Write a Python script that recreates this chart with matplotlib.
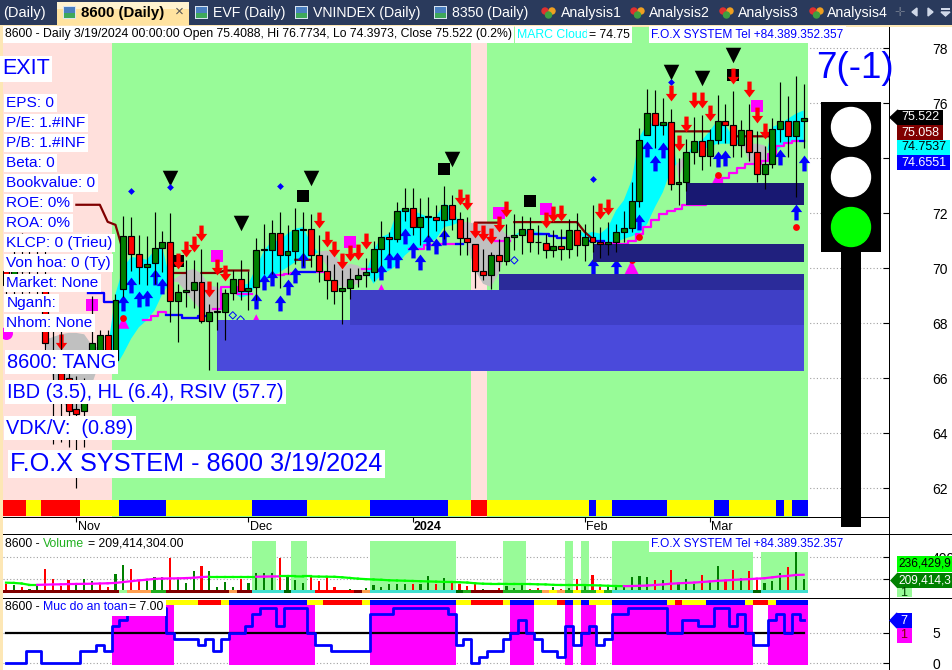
import numpy as np
import matplotlib
matplotlib.use('Agg')
from matplotlib import pyplot as plt
from matplotlib.path import Path
from matplotlib.patches import Rectangle, Polygon, Circle

plt.rcParams['font.family'] = ['Liberation Sans', 'DejaVu Sans']

nan = np.nan

candle_high = [70.4, 71.0, 71.3, 70.8, 71.0, 70.7, 68.0, 67.8, 66.3, 66.1, 66.0, 69.0, 67.75, 67.75, 69.07,
               71.89, 71.85, 71.22, 71.16, 72.06, 71.37, 72.0, 69.44, 70.29, 70.29, 70.71, 68.69, 69.49, 69.26, 69.95,
               70.31, 69.92, 71.12, 71.6, 71.74, 72.03, 71.56, 72.19, 72.03, 71.96, 71.2, 70.5, 70.14, 69.95, 70.02,
               70.02, 70.38, 71.01, 71.71, 71.32, 72.41, 72.91, 72.91, 72.57, 72.59, 72.29, 73.01, 72.65, 72.05, 71.86,
               70.87, 70.71, 70.61, 71.05, 71.6, 71.96, 71.91, 71.85, 71.58, 71.26, 71.4, 71.44, 71.81, 72.02, 71.6,
               72.29, 71.52, 71.67, 71.62, 72.08, 73.14, 75.11, 76.51, 76.47, 76.18, 75.8, 74.0, 74.69, 75.52, 75.56,
               75.07, 76.32, 75.96, 76.43, 75.41, 75.96, 74.98, 74.43, 75.48, 76.78, 76.25, 76.98, 76.69]
candle_low = [68.7, 68.5, 69.0, 69.1, 68.9, 66.9, 63.6, 63.7, 63.5, 62.0, 63.5, 66.8, 66.4, 66.4, 66.3,
              68.95, 69.92, 69.44, 69.38, 69.44, 69.86, 68.05, 67.32, 68.59, 68.57, 68.0, 66.3, 67.77, 67.38, 68.83,
              68.83, 68.47, 68.83, 69.8, 69.8, 69.28, 69.8, 70.17, 70.1, 70.05, 69.5, 68.87, 68.69, 67.96, 68.89,
              69.32, 69.32, 69.54, 70.07, 70.47, 70.95, 71.72, 71.2, 70.83, 71.14, 71.34, 71.07, 71.4, 70.47, 70.47,
              69.28, 69.56, 69.25, 69.92, 70.11, 70.65, 70.51, 70.59, 70.51, 70.37, 70.41, 70.29, 70.38, 70.43, 70.26,
              70.61, 70.37, 70.47, 70.61, 70.95, 71.32, 72.23, 74.83, 74.38, 74.83, 72.83, 72.32, 72.81, 73.78, 73.56,
              73.71, 74.51, 74.55, 74.04, 74.04, 73.92, 73.14, 72.9, 73.66, 74.59, 74.04, 72.59, 74.38]
candle_open = [69.9, 69.6, 70.4, 69.9, 70.3, 69.7, 66.6, 66.2, 66.0, 64.9, 64.8, 67.0, 66.6, 67.56, 66.65,
               69.25, 71.16, 70.53, 70.05, 70.2, 70.75, 70.97, 68.81, 69.15, 69.22, 69.51, 68.08, 68.42, 68.41, 69.1,
               69.62, 69.17, 69.32, 70.67, 70.66, 71.29, 70.48, 70.64, 71.4, 71.43, 70.49, 69.9, 69.58, 69.18, 69.29,
               69.62, 69.77, 69.88, 70.71, 71.15, 71.07, 72.09, 72.2, 71.5, 71.87, 71.87, 71.77, 72.29, 71.8, 71.11,
               70.87, 69.9, 69.75, 70.49, 70.26, 71.14, 71.22, 71.44, 70.95, 70.93, 70.66, 70.82, 70.7, 71.4, 70.84,
               71.15, 70.97, 70.88, 70.95, 71.32, 71.46, 72.44, 74.85, 75.66, 75.21, 75.33, 73.06, 73.14, 74.24, 74.64,
               74.08, 74.66, 75.37, 75.22, 74.48, 75.04, 74.24, 73.43, 73.79, 75.08, 75.37, 74.81, 75.35]
candle_close = [69.4, 70.3, 69.9, 70.3, 70.1, 67.3, 67.0, 65.9, 64.8, 64.7, 65.6, 67.3, 67.56, 66.6, 68.83,
                71.16, 70.53, 70.05, 70.17, 70.75, 70.97, 68.81, 69.15, 69.22, 69.51, 68.08, 68.42, 68.42, 69.11, 69.62,
                69.17, 69.29, 70.67, 70.67, 71.29, 70.49, 70.64, 71.4, 71.43, 70.48, 69.9, 69.58, 69.18, 69.29, 69.62,
                69.77, 69.88, 70.71, 71.15, 71.07, 72.07, 72.2, 71.5, 71.87, 71.87, 71.74, 72.29, 71.78, 71.1, 70.95,
                69.9, 69.74, 70.49, 70.26, 71.15, 71.22, 71.44, 70.95, 70.95, 70.66, 70.82, 70.7, 71.4, 70.84, 71.15,
                70.95, 70.88, 70.97, 71.33, 71.47, 72.46, 74.68, 75.66, 75.21, 75.33, 73.06, 73.15, 74.24, 74.64, 74.08,
                74.68, 75.37, 75.22, 74.48, 75.04, 74.23, 73.43, 73.8, 75.08, 75.37, 74.81, 75.37, 75.47]

# cloud edges, cyan where fast is above slow, gray otherwise
cloud_fast = [nan, nan, nan, nan, nan, 67.3, 66.0, 65.2, 64.9, 64.8, 65.0, 65.8, 66.6, 67.0, 69.07,
              70.04, 70.41, 70.38, 70.31, 70.65, 70.77, 69.52, 69.5, 69.14, 68.77, 68.47, 68.35, 68.47, 68.77, 69.29,
              69.38, 69.44, 70.04, 70.65, 70.99, 71.01, 71.26, 71.44, 71.5, 70.89, 70.55, 70.1, 69.44, 69.32, 69.32,
              69.44, 69.78, 70.65, 71.14, 71.26, 72.05, 72.2, 72.1, 71.98, 71.86, 71.86, 72.35, 72.23, 71.62, 70.77,
              69.92, 69.44, 69.32, 69.8, 70.71, 71.2, 71.38, 71.38, 71.32, 71.28, 71.2, 71.07, 71.14, 71.4, 71.26,
              71.32, 71.26, 71.5, 72.1, 72.47, 73.2, 74.77, 75.26, 75.26, 75.26, 75.26, 73.26, 74.04, 74.59, 74.65,
              75.0, 75.38, 75.2, 74.77, 74.59, 73.92, 73.66, 73.86, 75.14, 75.26, 75.44, 75.62, 75.74]
cloud_slow = [nan, nan, nan, nan, nan, 67.4, 67.5, 67.6, 67.65, 67.65, 67.6, 67.2, 67.1, 67.0, 66.41,
              66.89, 67.44, 67.86, 68.11, 68.47, 69.07, 69.5, 69.7, 69.9, 69.98, 69.8, 69.38, 69.32, 69.05, 69.14,
              68.93, 69.01, 69.38, 69.56, 69.68, 69.86, 70.04, 70.23, 70.31, 70.43, 70.6, 70.65, 70.53, 70.04, 70.17,
              70.1, 69.92, 69.44, 69.78, 69.92, 70.11, 70.47, 70.71, 70.71, 70.95, 71.07, 71.5, 71.56, 71.68, 71.68,
              71.62, 71.62, 71.62, 71.56, 71.2, 71.2, 71.26, 71.23, 71.2, 71.2, 71.14, 71.07, 71.26, 71.35, 71.07,
              71.01, 70.95, 70.92, 70.95, 71.07, 71.16, 71.28, 71.62, 72.23, 72.77, 73.56, 73.86, 74.17, 74.26, 74.31,
              74.43, 74.53, 74.53, 74.53, 74.5, 74.53, 74.53, 74.47, 74.11, 74.38, 74.59, 74.65, 74.65]

trail_line = [nan, nan, nan, nan, nan, nan, nan, nan, nan, nan, nan, 69.09, 69.09, 68.76, 68.76,
              nan, nan, nan, 68.13, 68.26, 68.41, 68.32, 68.29, 68.2, 68.19, 68.26, nan, 68.53, 69.32, 69.32,
              69.05, 69.05, nan, nan, nan, 69.74, 69.78, 69.83, 69.85, 69.85, 69.86, nan, nan, nan, nan,
              nan, 69.98, 69.98, nan, nan, nan, nan, 70.69, 70.71, 70.83, 70.83, 70.87, 70.87, 70.87, nan,
              nan, nan, nan, 71.01, 71.01, nan, nan, nan, 71.26, 71.26, 71.16, 71.1, nan, nan, nan,
              71.0, 71.0, 70.92, 70.89, 70.89, 71.01, 71.26, 71.52, 71.74, 71.96, 72.08, 72.17, 72.32, 72.29, 72.29,
              72.6, 73.0, 73.29, 73.46, 73.66, 73.8, 73.8, 73.9, 74.17, 74.43, 74.55, 74.63, 74.63]
trail_blue_bars = [11, 12, 13, 14, 21, 22, 23, 24, 25, 38, 39, 58, 68, 69, 70, 71, 75, 76, 102]

resist_line = [nan, nan, nan, nan, nan, nan, nan, nan, nan, 72.31, 72.31, 72.31, 72.31, 71.69, 71.58,
               70.6, nan, nan, nan, nan, nan, 69.83, 69.83, 69.83, nan, 69.83, 69.83, 69.83, 69.92, 69.92,
               69.92, 69.92, nan, nan, nan, nan, nan, 70.31, 70.31, 70.31, nan, nan, nan, nan, nan,
               nan, nan, nan, nan, nan, nan, nan, nan, nan, nan, nan, nan, nan, nan, nan,
               71.66, 71.66, 71.66, 71.66, nan, 71.68, 71.68, 71.68, 71.68, 71.68, 71.68, 71.68, 71.68, 71.68, 71.32,
               71.07, nan, nan, nan, nan, nan, nan, nan, nan, nan, 74.98, 74.98, 74.98, 74.98, 74.98,
               74.98, nan, nan, 74.8, 74.8, 74.8, 74.8, 74.8, 74.8, nan, nan, nan, nan]

up_arrow_bars = [15, 16, 17, 18, 19, 20, 32, 33, 34, 35, 36, 37, 38, 48, 49, 50, 51, 52, 53, 54, 55, 56,
                 75, 78, 81, 82, 83, 84, 91, 92, 99, 101, 102]
up_arrow_prices = [68.74, 69.41, 68.88, 68.91, 69.68, 69.35, 68.8, 69.52, 69.64, 68.74, 69.32, 69.74, 70.29,
                   69.86, 70.32, 70.31, 71.17, 70.65, 70.23, 70.95, 70.81, 71.14,
                   70.07, 70.04, 71.68, 74.35, 73.83, 74.31, 73.98, 74.0, 74.04, 72.03, 73.83]
down_arrow_bars = [7, 22, 23, 24, 25, 26, 27, 28, 40, 41, 42, 43, 44, 45, 46, 58, 59, 60, 61, 62, 63, 64,
                   69, 70, 71, 76, 77, 85, 86, 87, 88, 89, 90, 93, 95, 96, 97]
down_arrow_prices = [67.31, 70.26, 70.71, 70.87, 71.29, 69.26, 70.04, 69.84, 71.77, 71.07, 70.71, 70.25, 70.55,
                     70.59, 70.98, 72.59, 72.41, 71.4, 71.29, 71.17, 71.62, 72.17, 71.77, 71.98, 72.02, 72.08,
                     72.23, 76.38, 74.57, 75.26, 76.11, 76.13, 75.66, 77.01, 76.53, 75.56, 75.01]
black_tri_bars = [21, 30, 39, 57, 85, 89, 93]
black_tri_prices = [73.27, 71.64, 73.27, 73.96, 77.13, 76.91, 77.75]
black_sq_bars = [22, 38, 56, 67, 93]
black_sq_prices = [70.25, 72.63, 73.6, 72.43, 77.02]
pink_sq_bars = [11, 27, 44, 63, 69, 96]
pink_sq_prices = [68.65, 70.45, 70.95, 72.0, 72.14, 75.92]
pink_tri_bars = [15, 32, 48, 80, 91]
pink_tri_prices = [68.02, 68.13, 69.22, 70.02, 73.25]
pink_tri_sizes = [75, 63, 63, 117, 88]
pink_dot_bars = [0]
pink_dot_prices = [67.65]
blue_dot_bars = [16, 21, 35, 75, 85]
blue_dot_prices = [72.8, 72.95, 72.99, 73.23, 76.77]
red_dot_bars = [15, 80, 81, 91, 101]
red_dot_prices = [68.18, 70.3, 71.13, 73.4, 71.5]
ring_bars = [29, 30, 65]
ring_prices = [68.29, 68.14, 70.29]

band_starts = [27, 44, 63, 75, 87]
band_tops = [68.13, 69.22, 69.8, 70.89, 73.11]
band_bottoms = [66.27, 67.95, 69.22, 70.24, 72.31]
band_colors = ['#4A4ADB', '#3F3FC6', '#2B2B9A', '#20207E', '#181872']

bg_codes = ['#FFE0DC', '#98FB98', '#FFE0DC', '#98FB98']
bg_counts = [14, 46, 2, 41]
ribbon_codes = ['r', 'y', 'r', 'y', 'b', 'y', 'b', 'y', 'b', 'y', 'r', 'y', 'b', 'y', 'b', 'y', 'b', 'y', 'b', 'y', 'b']
ribbon_counts = [3, 2, 5, 5, 6, 11, 7, 8, 10, 3, 2, 13, 1, 2, 7, 6, 2, 6, 1, 1, 2]
safety_rib_codes = ['r', 'y', 'r', 'y', 'b', 'y', 'r', 'y', 'b', 'y', 'r', 'y', 'b', 'y', 'r', 'b', 'y', 'b', 'y', 'b',
                    'y', 'r', 'y', 'b', 'y', 'r', 'y', 'b']
safety_rib_counts = [21, 4, 3, 1, 10, 2, 5, 1, 11, 2, 4, 1, 3, 3, 1, 1, 1, 1, 3, 7, 1, 1, 3, 5, 1, 2, 1, 4]
rib_colors = {'r': '#FF0000', 'y': '#FFFF00', 'b': '#0000FF'}

volume = [165, 157, 136, 122, 148, 293, 206, 148, 200, 165, 206, 194, 171, 136, 252,
          328, 293, 200, 188, 223, 223, 388, 206, 171, 278, 319, 278, 136, 180, 136,
          209, 171, 258, 258, 258, 388, 241, 200, 171, 235, 191, 223, 136, 113, 125,
          113, 127, 154, 139, 162, 165, 165, 165, 165, 232, 162, 215, 194, 162, 148,
          171, 119, 113, 133, 148, 130, 171, 122, 127, 113, 136, 122, 130, 206, 148,
          244, 139, 139, 148, 148, 223, 232, 223, 200, 200, 287, 165, 206, 168, 244,
          185, 322, 200, 287, 217, 278, 200, 171, 194, 258, 310, 453, 209]
volume_dirs = 'rgrggrrrrg' 'ggrrggrrgg' 'grgggrgggg' 'rggggrgggr' 'rrrggrgggg' 'ggrggrgrrr' \
              'rgrrgggrrg' 'grgrgrrggg' 'gggrgrgggr' 'ggrrgrrgggrgg'
volume_ma = [177, 175, 170, 158, 158, 160, 162, 163, 165, 166, 167, 168, 170, 172, 175,
             183, 190, 197, 203, 210, 213, 214, 215, 217, 220, 226, 229, 229, 229, 229,
             229, 229, 229, 230, 231, 232, 232, 232, 231, 231, 230, 229, 228, 224, 218,
             212, 208, 205, 202, 198, 196, 194, 192, 190, 188, 186, 184, 183, 181, 178,
             172, 168, 167, 167, 166, 166, 165, 165, 163, 162, 158, 157, 157, 156, 156,
             155, 153, 150, 148, 147, 148, 150, 152, 157, 162, 168, 172, 175, 178, 183,
             188, 193, 197, 201, 205, 208, 212, 216, 224, 232, 236, 244, 246]
vol_shade_codes = [0, 1, 0, 1, 0, 1, 0, 1, 0, 1, 0, 1, 0, 1, 0, 1]
vol_shade_counts = [32, 3, 2, 2, 8, 11, 6, 3, 5, 1, 1, 1, 3, 18, 1, 6]
strip_codes = ['#800000', '#98FB98', '#FFA050', '#20B020', '#800000', '#FFA050', '#800000', '#40E0D0', '#006400',
               '#40E0D0', '#FF0000', '#800000', '#FFA050', '#40E0D0', '#006400', '#20B020', '#800000', '#20B020',
               '#FFA050', '#FFFF00', '#FFA050', '#20B020', '#FFFF00', '#20B020', '#FFFF00', '#20B020', '#40E0D0',
               '#006400', '#40E0D0']
strip_counts = [15, 1, 3, 2, 8, 1, 2, 4, 1, 3, 5, 1, 1, 11, 1, 1, 4, 5, 1, 1, 1, 1, 1, 2, 1, 1, 18, 1, 6]

safety = [0, 0, 0, 2, 2, 0, 0, 0, 0, 0, 2, 2, 3, 2, 6,
          7, 8, 9, 9, 9, 9, 5, 4, 4, 4, 3, 4, 2, 4, 5,
          5, 6, 8, 9, 9, 6, 9, 9, 9, 5, 3, 3, 2, 2, 2,
          2, 2, 8, 8, 8, 9, 9, 9, 9, 9, 9, 9, 8, 3, 4,
          0, 1, 2, 2, 4, 5, 7, 5, 4, 2, 2, 1, 6, 3, 5,
          6, 3, 4, 8, 8, 9, 9, 9, 9, 9, 5, 5, 7, 7, 6,
          6, 9, 9, 6, 8, 5, 3, 3, 7, 8, 5, 8, 7]

date_bars = [9, 31, 52, 74, 90]
date_labels = ['Nov', 'Dec', '2024', 'Feb', 'Mar']
price_ticks = [62, 64, 66, 68, 70, 72, 74, 76, 78]

W, H = 952, 670
BAR_PX, BAR0_PX = 7.82, 6.0
bars = np.arange(len(candle_close))


def expand(codes, counts):
    out = []
    for c, n in zip(codes, counts):
        out += [c] * n
    return out


def panel(y0, y1):
    ax = fig.add_axes([3 / W, 1 - y1 / H, 886 / W, (y1 - y0) / H])
    ax.set_xlim((3 - BAR0_PX) / BAR_PX, (889 - BAR0_PX) / BAR_PX)
    for s in ax.spines.values():
        s.set_visible(False)
    ax.set_xticks([])
    ax.yaxis.tick_right()
    ax.tick_params(axis='y', direction='in', length=4.5, width=0.8, pad=31, labelsize=10)
    ax.grid(axis='y', color='#A0A0A0', linestyle=(0, (1, 2)), linewidth=0.8)
    ax.set_axisbelow(True)
    return ax


def spans(ax, colors, low, high, zorder=1):
    ax.bar(bars, high - low, bottom=low, width=1.0, color=colors, linewidth=0, antialiased=False, zorder=zorder)


fig = plt.figure(figsize=(W / 100, H / 100), dpi=100)

# price panel
ax = panel(27, 517)
ax.set_ylim(78 - (517 - 48.3) / 27.5, 78 + (48.3 - 27) / 27.5)
ax.set_yticks(price_ticks)
spans(ax, expand(bg_codes, bg_counts), ax.get_ylim()[0], ax.get_ylim()[1])
spans(ax, [rib_colors[c] for c in expand(ribbon_codes, ribbon_counts)], 61.0, 61.59, zorder=1.5)

fast = np.array(cloud_fast)
slow = np.array(cloud_slow)
ax.fill_between(bars, fast, slow, where=fast >= slow, interpolate=True, color='#00FFFF', linewidth=0, zorder=2)
ax.fill_between(bars, fast, slow, where=fast <= slow, interpolate=True, color='#C0C0C0', linewidth=0, zorder=2)

trail = np.array(trail_line)
trail_blue = np.full(len(trail), nan)
trail_blue[trail_blue_bars] = trail[trail_blue_bars]
ax.plot(bars, trail, color='#FF00FF', linewidth=1.6, drawstyle='steps-mid', zorder=3)
ax.plot(bars, trail_blue, color='#0000FF', linewidth=1.6, drawstyle='steps-mid', zorder=3.1)
ax.plot(bars, resist_line, color='#800000', linewidth=1.6, zorder=3)

arrow_up = Path([(-0.27, -1), (-0.27, 0.05), (-0.72, 0.05), (0, 1), (0.72, 0.05), (0.27, 0.05), (0.27, -1), (-0.27, -1)], closed=True)
arrow_down = Path([(-0.27, 1), (-0.27, -0.05), (-0.72, -0.05), (0, -1), (0.72, -0.05), (0.27, -0.05), (0.27, 1), (-0.27, 1)], closed=True)
ax.scatter(pink_sq_bars, pink_sq_prices, marker='s', s=75, color='#FF00FF', linewidths=0, zorder=3.2)
ax.scatter(black_sq_bars, black_sq_prices, marker='s', s=75, color='black', linewidths=0, zorder=3.2)
ax.scatter(black_tri_bars, black_tri_prices, marker='v', s=125, color='black', linewidths=0, zorder=3.3)
ax.scatter(pink_tri_bars, pink_tri_prices, marker='^', s=pink_tri_sizes, color='#FF00FF', linewidths=0, zorder=3.3)
ax.scatter(pink_dot_bars, pink_dot_prices, marker='o', s=87, color='#FF00FF', linewidths=0, zorder=3.3)
ax.scatter(blue_dot_bars, blue_dot_prices, marker='D', s=12, color='#0000FF', linewidths=0, zorder=3.3)
ax.scatter(red_dot_bars, red_dot_prices, marker='o', s=24, color='#FF0000', linewidths=0, zorder=3.4)
ax.scatter(ring_bars, ring_prices, marker='D', s=14, facecolors='none', edgecolors='#0000FF', linewidths=0.7, zorder=3.3)
ax.scatter(up_arrow_bars, up_arrow_prices, marker=arrow_up, s=130, color='#0000FF', linewidths=0, zorder=3.5)
ax.scatter(down_arrow_bars, down_arrow_prices, marker=arrow_down, s=130, color='#FF0000', linewidths=0, zorder=3.5)

for start, top, bottom, color in zip(band_starts, band_tops, band_bottoms, band_colors):
    ax.fill_between([start, bars[-1]], bottom, top, color=color, linewidth=0, zorder=4)

o = np.array(candle_open)
c = np.array(candle_close)
ax.vlines(bars, candle_low, candle_high, color='black', linewidth=0.85, zorder=5)
body_colors = ['#008000' if up else '#FF0000' for up in c >= o]
ax.bar(bars, np.maximum(np.abs(c - o), 0.02), bottom=np.minimum(o, c), width=0.76, color=body_colors,
       edgecolor='black', linewidth=0.85, zorder=5.1)

# date strip
dates = panel(517, 534)
dates.set_ylim(0, 1)
dates.set_yticks([])
dates.grid(False)
dates.vlines(date_bars, 0.72, 1, color='black', linewidth=0.8)
for b, lab in zip(date_bars, date_labels):
    dates.text(b + 0.15, 0.42, lab, fontsize=9, va='center', ha='left',
               fontweight='bold' if lab == '2024' else 'normal')

# volume panel
vol = panel(534, 598)
vol.set_ylim(44, 600)
vol.set_yticks([209, 400])
vol.set_yticklabels(['', '400M'])
shade = np.array(expand(vol_shade_codes, vol_shade_counts)) == 1
vol.bar(bars[shade], 540 - 87, bottom=87, width=1.0, color='#98FB98', linewidth=0, antialiased=False, zorder=1)
vol.bar(bars, np.array(volume) - 87, bottom=87, width=0.28,
        color=['#FF0000' if d == 'r' else '#008000' for d in volume_dirs], linewidth=0, antialiased=False, zorder=2)
spans(vol, expand(strip_codes, strip_counts), 87, 113, zorder=2.5)
for i in bars[1:]:
    vol.plot([i - 1, i], [volume_ma[i - 1], volume_ma[i]], linewidth=1.6, zorder=3,
             color='#FF00FF' if volume_ma[i] > volume_ma[i - 1] else '#00FF00')

# safety panel
saf = panel(598, 670)
saf.set_ylim(-1.13, 10.65)
saf.set_yticks([0, 5])
level = np.array(safety)
saf.bar(bars[level >= 5], 9.9, bottom=-0.33, width=1.0, color='#FF00FF', linewidth=0, antialiased=False, zorder=1)
spans(saf, [rib_colors[x] for x in expand(safety_rib_codes, safety_rib_counts)], 9.57, 10.35, zorder=1.5)
saf.plot(bars, [5] * len(bars), color='black', linewidth=1.6, zorder=2)
saf.plot(bars, level, color='#0000FF', linewidth=2.0, drawstyle='steps-mid', zorder=3)

# window chrome, labels and traffic light are placed in screen pixels
ov = fig.add_axes([0, 0, 1, 1], zorder=10)
ov.set_xlim(0, W)
ov.set_ylim(H, 0)
ov.axis('off')


def box(x0, y0, x1, y1, color, zorder=2):
    ov.add_patch(Rectangle((x0, y0), x1 - x0, y1 - y0, facecolor=color, edgecolor='none', antialiased=False, zorder=zorder))


def label(x, y, s, size, color='#0000FF', bg='white', **kw):
    bbox = dict(facecolor=bg, edgecolor='none', pad=1.6) if bg else None
    ov.text(x, y, s, fontsize=size, color=color, va='center', ha='left', bbox=bbox, zorder=4, **kw)


# separators
box(3, 516.5, 889, 518, 'black')
box(3, 533.5, W, 535, 'black')
box(3, 597.5, W, 599, 'black')
box(888.5, 27, 890, H, 'black')

# tab bar
box(0, 0, W, 25, '#2A3A5C')
box(0, 25, W, 27, '#FDE7B5')
box(0, 25, 2.5, H, '#FDE7B5')
box(57, 2, 189, 25, '#FFE3A0')
box(57, 2, 189, 9, '#FFF3D0')
ov.text(3, 13, '(Daily)', fontsize=10.5, color='white', va='center')
ov.text(81, 13, '8600 (Daily)', fontsize=10.8, color='black', fontweight='bold', va='center')
ov.text(179, 12, '\u00d7', fontsize=11, color='#555555', va='center', ha='center')
tab_x = [213, 313, 452, 561, 649, 738, 827]
tab_names = ['EVF (Daily)', 'VNINDEX (Daily)', '8350 (Daily)', 'Analysis1', 'Analysis2', 'Analysis3', 'Analysis4']
for x, name in zip(tab_x, tab_names):
    ov.text(x, 13, name, fontsize=10.2, color='white', va='center')
for x in [63, 195, 295, 434]:
    box(x, 6, x + 13, 19, '#D8E4F0', zorder=3)
    box(x + 1, 13, x + 12, 18, '#3FA85A', zorder=3.1)
    box(x + 1, 7, x + 12, 13, '#4A7FC0', zorder=3.1)
for x in [542, 631, 720, 810]:
    ov.add_patch(Circle((x + 3, 11), 3, color='#E03030', zorder=3))
    ov.add_patch(Circle((x + 10, 11), 3, color='#F0A020', zorder=3))
    ov.add_patch(Circle((x + 6.5, 15), 3, color='#40A040', zorder=3))
ov.add_patch(Polygon([(917, 8), (917, 16), (912, 12)], color='#D0D8E8', zorder=3))
ov.add_patch(Polygon([(928, 8), (928, 16), (933, 12)], color='#D0D8E8', zorder=3))
box(941, 8, 950, 10, '#D0D8E8', zorder=3)
ov.add_patch(Polygon([(941, 12), (950, 12), (945.5, 16)], color='#D0D8E8', zorder=3))
ov.text(905, 12, '\u271b', fontsize=9, color='#6A7488', va='center', ha='right', family=['DejaVu Sans'])

# header lines
label(5, 34.5, '8600 - Daily 3/19/2024 00:00:00 Open 75.4088, Hi 76.7734, Lo 74.3973, Close 75.522 (0.2%)', 8.8, 'black')
label(517, 34.5, 'MARC Cloud', 8.8, '#00FFFF')
label(589, 34.5, '= 74.75', 8.8, 'black')
label(651, 34.5, 'F.O.X SYSTEM Tel +84.389.352.357', 8.6)
label(5, 544, '8600 - ', 8.8, 'black')
label(43, 544, 'Volume', 8.8, '#20B020')
label(88, 544, '= 209,414,304.00', 8.8, 'black')
label(651, 544, 'F.O.X SYSTEM Tel +84.389.352.357', 8.6)
label(5, 607.5, '8600 - ', 8.8, 'black')
label(43, 607.5, 'Muc do an toan', 8.8)
label(129, 607.5, '= 7.00', 8.8, 'black')

# left info column
label(2, 69, 'EXIT', 15.5)
info_rows = ['EPS: 0', 'P/E: 1.#INF', 'P/B: 1.#INF', 'Beta: 0', 'Bookvalue: 0', 'ROE: 0%', 'ROA: 0%',
             'KLCP: 0 (Trieu)', 'Von hoa: 0 (Ty)', 'Market: None', 'Nganh:', 'Nhom: None']
for k, row in enumerate(info_rows):
    label(6.5, 103 + 20 * k, row, 11.1)
label(7, 362, '8600: TANG', 14.4)
label(7, 392, 'IBD (3.5), HL (6.4), RSIV (57.7)', 14.3)
label(6, 428, 'VDK/V:  (0.89)', 14.3)
label(10, 464, 'F.O.X SYSTEM - 8600 3/19/2024', 18.2)
label(816, 68, '7(-1)', 26.5, bg=None)

# traffic light
box(841, 252, 861, 527, 'black')
box(821, 102, 881, 252, 'black')
for cy, col in zip([127, 177, 227], ['white', 'white', '#00FF00']):
    ov.add_patch(Circle((851, cy), 19.5, color=col, zorder=3))

# value tags
tag_font = 9
box(898, 110, 943, 125, 'black', 5)
ov.add_patch(Polygon([(890, 117.5), (898, 110), (898, 125)], color='black', zorder=5))
ov.text(901, 117.5, '75.522', fontsize=tag_font, color='white', va='center', zorder=6)
box(897, 125, 943, 140, '#800000', 5)
ov.text(901, 132.5, '75.058', fontsize=tag_font, color='white', va='center', zorder=6)
box(897, 140, 950, 155, '#00FFFF', 5)
ov.text(901, 147.5, '74.7537', fontsize=tag_font, color='black', va='center', zorder=6)
box(897, 155, 950, 170, '#0000FF', 5)
ov.text(901, 162.5, '74.6551', fontsize=tag_font, color='white', va='center', zorder=6)
box(897, 556, 952, 572, '#00FF00', 5)
ov.text(898, 564, '236,429,9', fontsize=8.6, color='black', va='center', zorder=6)
box(898, 573, 952, 588, '#008000', 5)
ov.add_patch(Polygon([(891, 580.5), (898, 573), (898, 588)], color='#008000', zorder=5))
ov.text(898, 580.5, '209,414,3', fontsize=8.6, color='white', va='center', zorder=6)
box(897, 588, 912, 597, '#98FB98', 5)
ov.text(900, 593, '1', fontsize=tag_font, color='#004000', va='center', zorder=6)
box(897, 613, 912, 628, '#0000FF', 5)
ov.add_patch(Polygon([(890, 620.5), (897, 613), (897, 628)], color='#0000FF', zorder=5))
ov.text(900, 620.5, '7', fontsize=tag_font, color='white', va='center', zorder=6)
box(897, 628, 912, 643, '#FF00FF', 5)
ov.text(900, 635.5, '1', fontsize=tag_font, color='#800000', va='center', zorder=6)

fig.savefig('out.png', dpi=100)
